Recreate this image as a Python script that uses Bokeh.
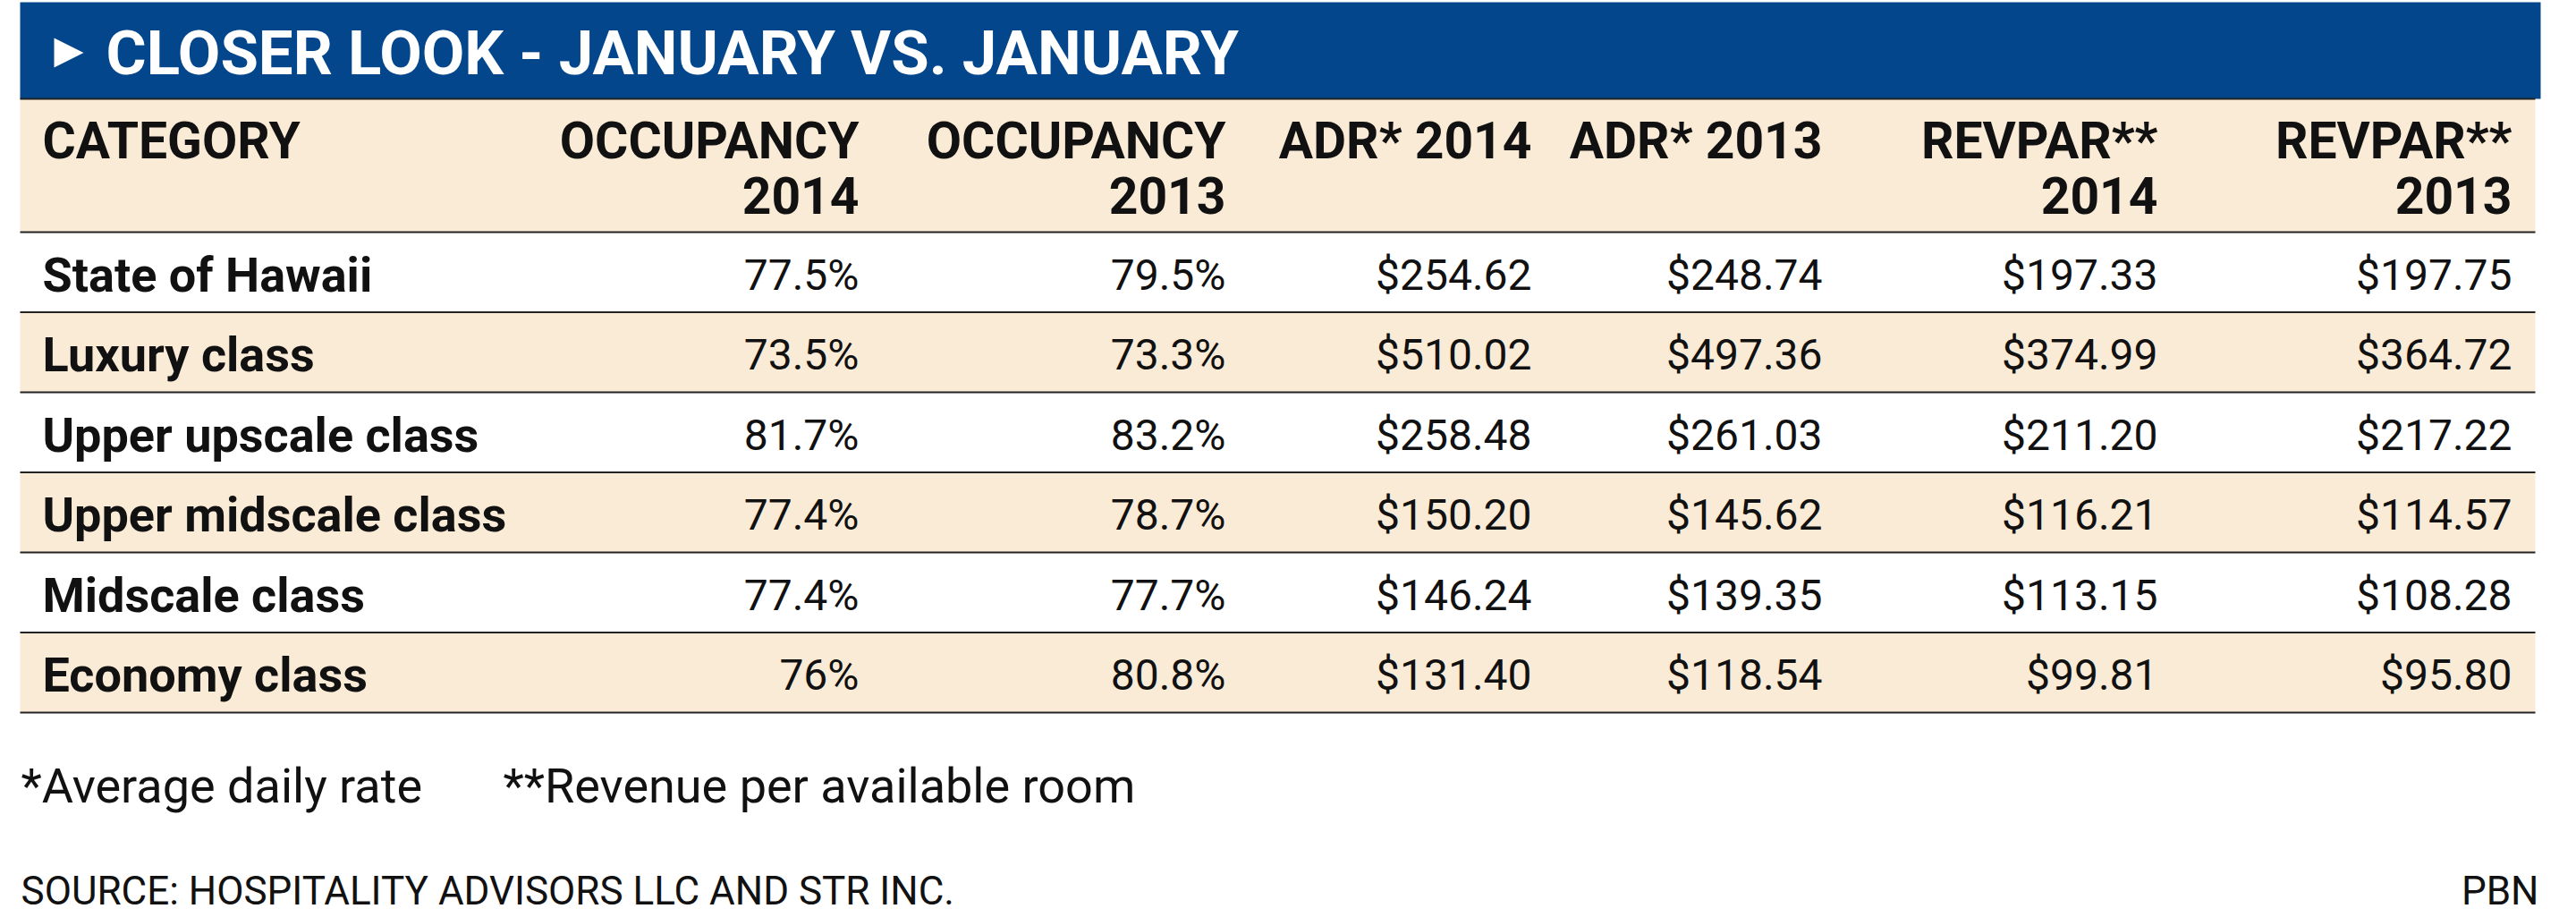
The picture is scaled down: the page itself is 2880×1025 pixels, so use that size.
from bokeh.plotting import figure
from bokeh.models import Range1d
from bokeh.core.properties import value
from bokeh.embed import file_html
from bokeh.resources import INLINE

# ---------------- data ----------------
title = "CLOSER LOOK - JANUARY VS. JANUARY"
header_line1 = ["CATEGORY", "OCCUPANCY", "OCCUPANCY", "ADR* 2014", "ADR* 2013", "REVPAR**", "REVPAR**"]
header_line2 = ["", "2014", "2013", "", "", "2014", "2013"]
categories = ["State of Hawaii", "Luxury class", "Upper upscale class",
              "Upper midscale class", "Midscale class", "Economy class"]
occupancy_2014 = [77.5, 73.5, 81.7, 77.4, 77.4, 76]
occupancy_2013 = [79.5, 73.3, 83.2, 78.7, 77.7, 80.8]
adr_2014 = [254.62, 510.02, 258.48, 150.20, 146.24, 131.40]
adr_2013 = [248.74, 497.36, 261.03, 145.62, 139.35, 118.54]
revpar_2014 = [197.33, 374.99, 211.20, 116.21, 113.15, 99.81]
revpar_2013 = [197.75, 364.72, 217.22, 114.57, 108.28, 95.80]
notes = ["*Average daily rate", "**Revenue per available room"]
source = "SOURCE: HOSPITALITY ADVISORS LLC AND STR INC."
credit = "PBN"

# ---------------- layout / style ----------------
BLUE = "#03468C"
BEIGE = "#FAEBD7"
INK = "#111111"
LINE = "#222222"
LEFT, RIGHT = 22, 2834
BAR_TOP, BAR_BOTTOM = 2, 110
HEAD_BOTTOM = 259
ROW_H = 89.5
CAT_X = 47
COL_RIGHT = [960, 1370, 1712, 2037, 2412, 2808]
FONT = value("Roboto")

W, H = 2864, 1025
p = figure(width=W, height=H, x_range=Range1d(0, W), y_range=Range1d(H, 0),
           toolbar_location=None, output_backend="svg", min_border=0, title=None,
           background_fill_color="white", border_fill_color="white")
p.axis.visible = False
p.grid.visible = False
p.outline_line_color = None

def label(x, y, t, size, align="left", bold=False, color=INK):
    # y is the vertical centre of the capital letters
    p.text(x=x, y=y, text=t, text_font=FONT, text_font_style="bold" if bold else "normal",
           text_font_size=size, text_color=color, text_align=align, text_baseline="middle")

# title bar
p.quad(left=[LEFT], right=[2840], top=[BAR_TOP], bottom=[BAR_BOTTOM],
       fill_color=BLUE, line_color=None)
p.patch(x=[60, 93, 60], y=[42, 58.5, 75], fill_color="white", line_color=None)
label([118], [58.5], [title], "69px", bold=True, color="white")

# header band
p.quad(left=[LEFT], right=[RIGHT], top=[BAR_BOTTOM], bottom=[HEAD_BOTTOM],
       fill_color=BEIGE, line_color=None)
p.segment(x0=[LEFT], x1=[RIGHT], y0=[BAR_BOTTOM], y1=[BAR_BOTTOM], line_color=LINE, line_width=2)

hx = [CAT_X] + COL_RIGHT
halign = ["left"] + ["right"] * len(COL_RIGHT)
for x, a, t1, t2 in zip(hx, halign, header_line1, header_line2):
    label([x], [157], [t1], "57px", align=a, bold=True)
    if t2:
        label([x], [217.5], [t2], "57px", align=a, bold=True)

# rows
n = len(categories)
tops = [HEAD_BOTTOM + i * ROW_H for i in range(n)]
bottoms = [t + ROW_H for t in tops]
fills = ["white" if i % 2 == 0 else BEIGE for i in range(n)]
p.quad(left=[LEFT] * n, right=[RIGHT] * n, top=tops, bottom=bottoms,
       fill_color=fills, line_color=None)
p.segment(x0=[LEFT] * (n + 1), x1=[RIGHT] * (n + 1), y0=[HEAD_BOTTOM] + bottoms,
          y1=[HEAD_BOTTOM] + bottoms, line_color=LINE, line_width=2)

centers = [t + 47.5 for t in tops]
label([CAT_X] * n, centers, categories, "54px", bold=True)

columns = [
    [f"{v:g}%" for v in occupancy_2014],
    [f"{v:g}%" for v in occupancy_2013],
    [f"${v:,.2f}" for v in adr_2014],
    [f"${v:,.2f}" for v in adr_2013],
    [f"${v:,.2f}" for v in revpar_2014],
    [f"${v:,.2f}" for v in revpar_2013],
]
for x, col in zip(COL_RIGHT, columns):
    label([x] * n, centers, col, "48px", align="right")

# notes & source
label([23, 562], [877.5, 877.5], notes, "54px")
label([23], [995.5], [source], "44px")
label([2838], [995.5], [credit], "44px", align="right")

open("out.html", "w").write(file_html(p, INLINE))
